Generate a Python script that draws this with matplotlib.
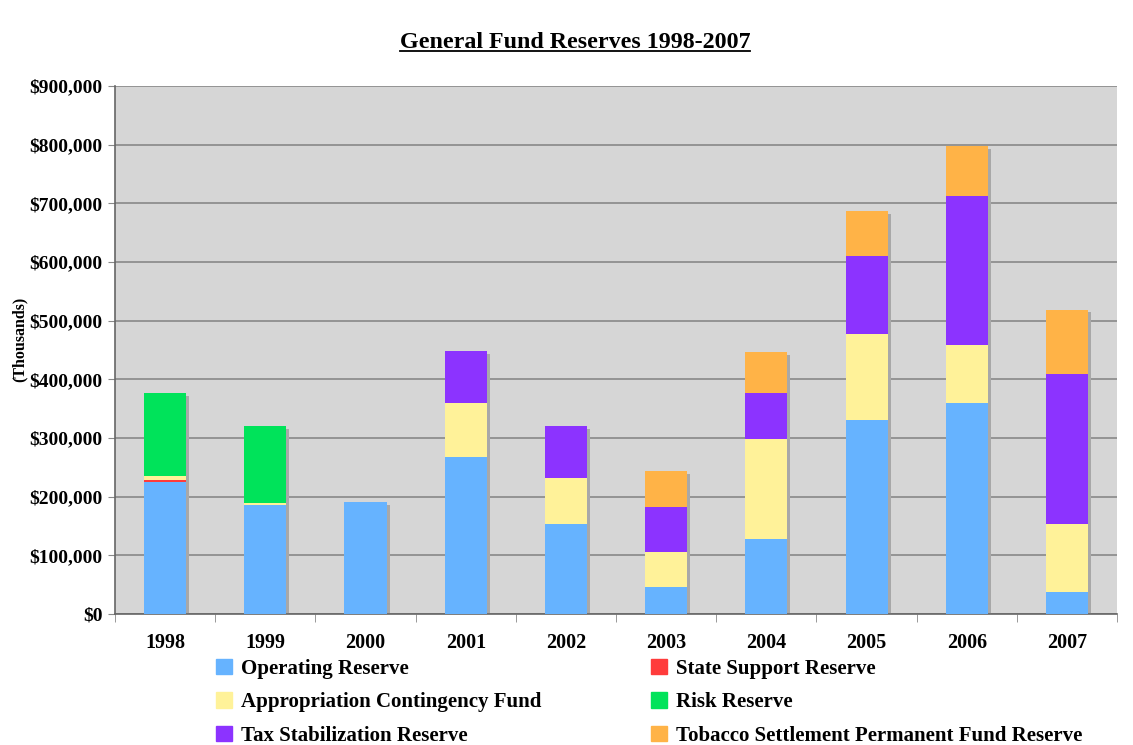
import matplotlib
matplotlib.use("Agg")
import matplotlib.pyplot as plt
import numpy as np
from matplotlib.patches import Patch
from matplotlib.ticker import FuncFormatter, MultipleLocator

years = ["1998", "1999", "2000", "2001", "2002", "2003", "2004", "2005", "2006", "2007"]

# values in thousands of dollars
operating = [225000, 185000, 191000, 267000, 154000, 46000, 128000, 330000, 359000, 38000]
state_support = [4000, 0, 0, 0, 0, 0, 0, 0, 0, 0]
appropriation = [7000, 4000, 0, 93000, 78000, 59000, 170000, 147000, 100000, 116000]
risk = [141000, 132000, 0, 0, 0, 0, 0, 0, 0, 0]
tax_stab = [0, 0, 0, 88000, 88000, 77000, 78000, 133000, 254000, 255000]
tobacco = [0, 0, 0, 0, 0, 62000, 70000, 77000, 85000, 110000]

series = [
    ("Operating Reserve", operating, "#66b3ff"),
    ("State Support Reserve", state_support, "#ff3b3b"),
    ("Appropriation Contingency Fund", appropriation, "#fff299"),
    ("Risk Reserve", risk, "#00e35a"),
    ("Tax Stabilization Reserve", tax_stab, "#8c33ff"),
    ("Tobacco Settlement Permanent Fund Reserve", tobacco, "#ffb347"),
]

plt.rcParams["font.family"] = ["Liberation Serif", "DejaVu Serif"]
plt.rcParams["font.weight"] = "bold"

fig = plt.figure(figsize=(11.33, 7.45), dpi=100)
ax = fig.add_axes([0.1015, 0.1758, 0.8845, 0.7088])
ax.set_facecolor("#d6d6d6")

x = np.arange(len(years))
width = 0.42

# drop shadow behind each stack
totals = np.sum([s[1] for s in series], axis=0)
ax.bar(x + 0.03, totals - 5000, width, color="#a8a8a8", zorder=2, linewidth=0)

bottom = np.zeros(len(years))
for name, vals, col in series:
    vals = np.array(vals, dtype=float)
    ax.bar(x, vals, width, bottom=bottom, color=col, linewidth=0, zorder=3)
    bottom += vals

ax.set_xlim(-0.5, 9.5)
ax.set_ylim(0, 900000)
ax.yaxis.set_major_locator(MultipleLocator(100000))
ax.yaxis.set_major_formatter(FuncFormatter(lambda v, p: "${:,.0f}".format(v)))
ax.grid(axis="y", color="#888888", linewidth=1.2, zorder=1)
ax.set_axisbelow(True)

ax.set_xticks(x)
ax.set_xticklabels(years)
ax.set_xticks(np.arange(-0.5, 10, 1), minor=True)
ax.tick_params(axis="x", which="major", length=0, pad=14, labelsize=14.5)
ax.tick_params(axis="x", which="minor", length=6, color="#888888")
ax.tick_params(axis="y", length=5, color="#888888", labelsize=14, pad=4)
for lab in ax.get_xticklabels() + ax.get_yticklabels():
    lab.set_fontweight("bold")

for side in ["top", "right"]:
    ax.spines[side].set_visible(False)
ax.spines["left"].set_color("#666666")
ax.spines["bottom"].set_color("#666666")
ax.spines["left"].set_linewidth(1.2)
ax.spines["bottom"].set_linewidth(1.2)

fig.text(0.017, 0.545, "(Thousands)", rotation=90, ha="center", va="center",
         fontsize=11.5, fontweight="bold")

title = fig.text(0.5075, 0.943, "General Fund Reserves 1998-2007", ha="center",
                 va="center", fontsize=17.3, fontweight="bold")
fig.canvas.draw()
bb = title.get_window_extent().transformed(fig.transFigure.inverted())
fig.add_artist(plt.Line2D([bb.x0, bb.x1], [bb.y0 + 0.003, bb.y0 + 0.003],
                          transform=fig.transFigure, color="black", linewidth=1.3))

order = [0, 2, 4, 1, 3, 5]
handles = [Patch(facecolor=series[i][2], edgecolor=series[i][2]) for i in order]
labels = [series[i][0] for i in order]
fig.legend(handles, labels, loc="upper left", bbox_to_anchor=(0.191, 0.116),
           ncol=2, frameon=False, prop={"size": 15, "weight": "bold"},
           handlelength=0.75, handleheight=0.75, handletextpad=0.45,
           columnspacing=5.25, labelspacing=0.66, borderaxespad=0, borderpad=0)

fig.savefig("out.png", dpi=100, facecolor="white")
